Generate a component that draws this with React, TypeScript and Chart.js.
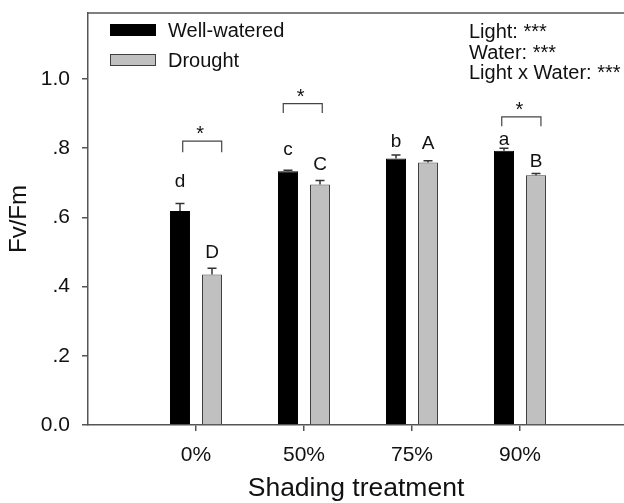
import React, { useEffect, useRef } from 'react';
import { Chart, registerables } from 'chart.js';

Chart.register(...registerables);

const categories = ['0%', '50%', '75%', '90%'];
const wellWatered = [0.618, 0.733, 0.77, 0.792];
const wellWateredErr = [0.022, 0.003, 0.01, 0.007];
const drought = [0.435, 0.695, 0.758, 0.7215];
const droughtErr = [0.018, 0.011, 0.005, 0.005];
const wellWateredLetters = ['d', 'c', 'b', 'a'];
const droughtLetters = ['D', 'C', 'A', 'B'];
const wellWateredLetterY = [0.686, 0.779, 0.803, 0.808];
const droughtLetterY = [0.482, 0.736, 0.797, 0.745];
const bracketCategory = [0, 1, 3];
const bracketLeft = [-0.123, -0.192, -0.169];
const bracketRight = [0.238, 0.169, 0.194];
const bracketTop = [0.82, 0.928, 0.89];
const bracketFoot = [0.788, 0.901, 0.863];
const statsLines = ['Light: ***', 'Water: ***', 'Light x Water: ***'];
const yTicks = [0, 0.2, 0.4, 0.6, 0.8, 1.0];
const yTickLabels = ['0.0', '.2', '.4', '.6', '.8', '1.0'];

const FONT = '"Liberation Sans", Arial, Helvetica, sans-serif';
const AXIS = '#555555';
const TEXT = '#111111';
const WW_COLOR = '#000000';
const DR_COLOR = '#c0c0c0';
const DR_BORDER = '#404040';

const annotations = {
  id: 'annotations',
  afterDatasetsDraw(chart: any) {
    const ctx = chart.ctx;
    const xs = chart.scales.x;
    const ys = chart.scales.y;
    const errs = [wellWateredErr, droughtErr];
    const vals = [wellWatered, drought];
    const letters = [wellWateredLetters, droughtLetters];
    const letterY = [wellWateredLetterY, droughtLetterY];
    ctx.save();
    // error bars
    ctx.strokeStyle = '#333333';
    ctx.lineWidth = 1.5;
    for (let d = 0; d < 2; d++) {
      const meta = chart.getDatasetMeta(d);
      meta.data.forEach((bar: any, i: number) => {
        const top = ys.getPixelForValue(vals[d][i] + errs[d][i]);
        const base = ys.getPixelForValue(vals[d][i]);
        ctx.beginPath();
        ctx.moveTo(bar.x, base);
        ctx.lineTo(bar.x, top);
        ctx.moveTo(bar.x - 4.5, top);
        ctx.lineTo(bar.x + 4.5, top);
        ctx.stroke();
      });
    }
    // letters
    ctx.fillStyle = TEXT;
    ctx.font = `19px ${FONT}`;
    ctx.textAlign = 'center';
    ctx.textBaseline = 'alphabetic';
    for (let d = 0; d < 2; d++) {
      const meta = chart.getDatasetMeta(d);
      meta.data.forEach((bar: any, i: number) => {
        ctx.fillText(letters[d][i], bar.x, ys.getPixelForValue(letterY[d][i]));
      });
    }
    // brackets
    ctx.strokeStyle = '#444444';
    ctx.lineWidth = 1.2;
    bracketCategory.forEach((c, k) => {
      const x1 = xs.getPixelForValue(c + bracketLeft[k]);
      const x2 = xs.getPixelForValue(c + bracketRight[k]);
      const yt = ys.getPixelForValue(bracketTop[k]);
      const yf = ys.getPixelForValue(bracketFoot[k]);
      ctx.beginPath();
      ctx.moveTo(x1, yf);
      ctx.lineTo(x1, yt);
      ctx.lineTo(x2, yt);
      ctx.lineTo(x2, yf);
      ctx.stroke();
      ctx.font = `20px ${FONT}`;
      ctx.fillText('*', (x1 + x2) / 2 - 2, yt - 1);
    });
    ctx.restore();
  },
  afterDraw(chart: any) {
    const ctx = chart.ctx;
    const area = chart.chartArea;
    ctx.save();
    // top frame line
    ctx.strokeStyle = AXIS;
    ctx.lineWidth = 1.5;
    ctx.beginPath();
    ctx.moveTo(area.left, area.top);
    ctx.lineTo(area.right, area.top);
    ctx.stroke();
    // legend
    ctx.font = `20px ${FONT}`;
    ctx.textAlign = 'left';
    ctx.textBaseline = 'alphabetic';
    chart.data.datasets.forEach((ds: any, i: number) => {
      const bx = area.left + 22;
      const by = area.top + 11 + i * 30;
      ctx.fillStyle = ds.backgroundColor;
      ctx.fillRect(bx, by, 46, 12);
      ctx.strokeStyle = ds.borderColor;
      ctx.lineWidth = 1;
      ctx.strokeRect(bx + 0.5, by + 0.5, 45, 11);
      ctx.fillStyle = TEXT;
      ctx.fillText(ds.label, bx + 58, by + 13);
    });
    // stats text
    ctx.font = `20px ${FONT}`;
    statsLines.forEach((line, i) => {
      ctx.fillText(line, 469, 38 + i * 20.7);
    });
    ctx.restore();
  },
};

export default function App() {
  const ref = useRef<HTMLCanvasElement | null>(null);
  useEffect(() => {
    document.body.style.margin = '0';
    const canvas = ref.current;
    if (!canvas) return;
    const chart = new Chart(canvas, {
      type: 'bar',
      data: {
        datasets: [
          {
            label: 'Well-watered',
            data: wellWatered.map((v, i) => ({ x: i, y: v })),
            backgroundColor: WW_COLOR,
            borderColor: WW_COLOR,
            borderWidth: 1,
          },
          {
            label: 'Drought',
            data: drought.map((v, i) => ({ x: i, y: v })),
            backgroundColor: DR_COLOR,
            borderColor: DR_BORDER,
            borderWidth: 1,
          },
        ],
      },
      options: {
        responsive: false,
        animation: false,
        barPercentage: 0.625,
        categoryPercentage: 0.593,
        layout: { padding: { top: 13, right: 0, left: 0, bottom: 0 } },
        plugins: {
          legend: { display: false },
          tooltip: { enabled: false },
        },
        scales: {
          x: {
            type: 'linear',
            min: -1,
            max: 3.963,
            offset: false,
            afterBuildTicks: (axis: any) => {
              axis.ticks = categories.map((_, i) => ({ value: i }));
            },
            afterFit: (scale: any) => {
              scale.height = 78;
              scale.paddingLeft = 0;
              scale.paddingRight = 0;
            },
            ticks: {
              callback: (v: any) => categories[v] ?? '',
              color: TEXT,
              font: { family: FONT, size: 21 },
              padding: 12,
              maxRotation: 0,
              autoSkip: false,
            },
            grid: { offset: false, drawOnChartArea: false, drawTicks: true, tickLength: 6, color: AXIS, lineWidth: 1.5 },
            border: { display: true, color: AXIS, width: 1.5 },
            title: {
              display: true,
              text: 'Shading treatment',
              color: TEXT,
              font: { family: FONT, size: 26.5 },
              padding: { top: 0, bottom: -2 },
            },
          },
          y: {
            min: 0,
            max: 1.19,
            afterBuildTicks: (axis: any) => {
              axis.ticks = yTicks.map((v) => ({ value: v }));
            },
            afterFit: (scale: any) => {
              scale.width = 88;
              scale.paddingTop = 0;
              scale.paddingBottom = 0;
            },
            ticks: {
              callback: (v: any) => yTickLabels[yTicks.findIndex((t) => Math.abs(t - v) < 1e-6)] ?? '',
              color: TEXT,
              font: { family: FONT, size: 21 },
              padding: 12,
            },
            grid: { drawOnChartArea: false, drawTicks: true, tickLength: 6, color: AXIS, lineWidth: 1.5 },
            border: { display: true, color: AXIS, width: 1.5 },
            title: {
              display: true,
              text: 'Fv/Fm',
              color: TEXT,
              font: { family: FONT, size: 24 },
              padding: { top: 5, bottom: 0 },
            },
          },
        },
      } as any,
      plugins: [annotations],
    });
    return () => chart.destroy();
  }, []);
  return (
    <div style={{ position: 'absolute', left: 0, top: 0, width: 624, height: 503, background: '#fff' }}>
      <canvas ref={ref} width={624} height={503} style={{ display: 'block' }} />
    </div>
  );
}
